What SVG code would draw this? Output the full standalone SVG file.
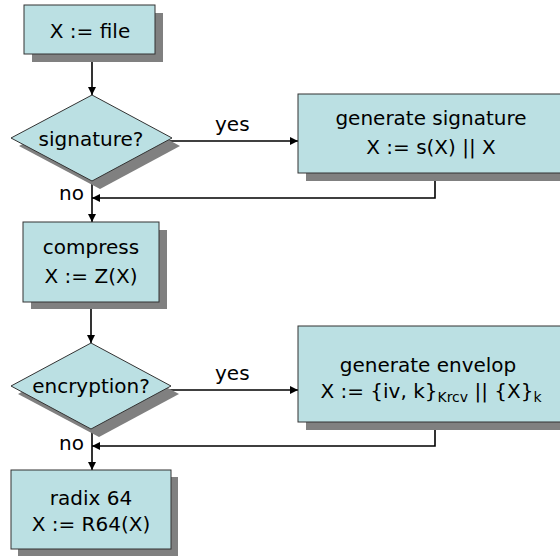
<svg xmlns="http://www.w3.org/2000/svg" width="560" height="556" viewBox="0 0 560 556">
<style>
.box{fill:#bbe0e3;stroke:#333;stroke-width:1}
.sh{fill:#808080;stroke:none}
.t{font-family:"Comic Sans MS","DejaVu Sans",sans-serif;font-size:20px;fill:#000;text-anchor:middle}
.l{font-family:"Comic Sans MS","DejaVu Sans",sans-serif;font-size:20px;fill:#000}
.sub{font-size:14px}
.c{fill:none;stroke:#000;stroke-width:1.6}
</style>
<defs>
<marker id="ah" viewBox="0 0 10 10" refX="10" refY="5" markerWidth="8" markerHeight="8" markerUnits="userSpaceOnUse" orient="auto">
<path d="M0,0 L10,5 L0,10 z" fill="#000"/>
</marker>
</defs>
<rect width="560" height="556" fill="#fff"/>
<g id="connectors">
<path class="c" d="M92,54 V95" marker-end="url(#ah)"/>
<path class="c" d="M166,141 H298" marker-end="url(#ah)"/>
<path class="c" d="M435,173 V198 H92" marker-end="url(#ah)"/>
<path class="c" d="M92,181 V222" marker-end="url(#ah)"/>
<path class="c" d="M91,302 V343" marker-end="url(#ah)"/>
<path class="c" d="M166,390 H298" marker-end="url(#ah)"/>
<path class="c" d="M435,422 V446 H92" marker-end="url(#ah)"/>
<path class="c" d="M92,429 V470" marker-end="url(#ah)"/>
<text class="l" x="215" y="131">yes</text>
<text class="l" x="215" y="380">yes</text>
<text class="l" x="59" y="200">no</text>
<text class="l" x="59" y="450">no</text>
</g>
<g id="n1">
<rect class="sh" x="32" y="13" width="131" height="49"/>
<rect class="box" x="24" y="5" width="131" height="49"/>
<text class="t" x="90" y="38">X := file</text>
</g>
<g id="n2">
<polygon class="sh" points="100,103 180,146 100,189 19,146"/>
<polygon class="box" points="92,95 172,138 92,181 11,138"/>
<text class="t" x="91" y="146">signature?</text>
</g>
<g id="n3">
<rect class="sh" x="306" y="102" width="270" height="79"/>
<rect class="box" x="298" y="94" width="270" height="79"/>
<text class="t" x="431" y="125">generate signature</text>
<text class="t" x="431" y="154">X := s(X) || X</text>
</g>
<g id="n4">
<rect class="sh" x="31" y="230" width="136" height="79"/>
<rect class="box" x="23" y="222" width="136" height="80"/>
<text class="t" x="91" y="254">compress</text>
<text class="t" x="91" y="283">X := Z(X)</text>
</g>
<g id="n5">
<polygon class="sh" points="99,351 179,394 99,437 18,394"/>
<polygon class="box" points="91,343 171,386 91,429 11,386"/>
<text class="t" x="91" y="393">encryption?</text>
</g>
<g id="n6">
<rect class="sh" x="306" y="334" width="270" height="96"/>
<rect class="box" x="298" y="326" width="270" height="96"/>
<text class="t" x="428" y="372">generate envelop</text>
<text class="t" x="431" y="398">X := {iv, k}<tspan class="sub" dy="4">Krcv</tspan><tspan dy="-4"> || {X}</tspan><tspan class="sub" dy="4">k</tspan></text>
</g>
<g id="n7">
<rect class="sh" x="18" y="477" width="160" height="79"/>
<rect class="box" x="11" y="470" width="160" height="79"/>
<text class="t" x="91" y="505">radix 64</text>
<text class="t" x="91" y="531">X := R64(X)</text>
</g>
</svg>
